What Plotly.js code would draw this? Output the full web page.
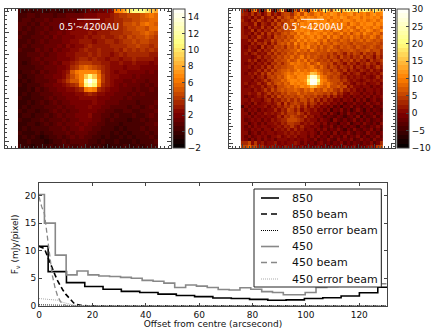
<!DOCTYPE html>
<html><head><meta charset="utf-8">
<script src="https://cdn.plot.ly/plotly-3.0.1.min.js"></script>
<style>html,body{margin:0;padding:0;background:#fff}#c{width:436px;height:334px}</style>
</head><body><div id="c"></div>
<script>
const map850 = [
[.5,0,.5,0,.5,.5,0,.5,.5,0,0,.5,.5,0,.5,1,1.5,1,1.5,1.5,2,2.5,6,7,8,10,11,11,11,10,9,8],
[.5,.5,1,1,.5,1,1,1,.5,1,1,1.5,1.5,1.5,1.5,2,2,2,2.5,2.5,2.5,3,3.5,4,4,4.5,4.5,4.5,5,5.5,6,5.5],
[.5,1,1,.5,1,1,1.5,1,1.5,1.5,1.5,1.5,2,2,2,2.5,2.5,2.5,2.5,2.5,3,3,3.5,3.5,4,4,4.5,4.5,5,5,5.5,5.5],
[1,1,.5,1,.5,1.5,1,1.5,1.5,1.5,2,1.5,2,2,2.5,2.5,2.5,2.5,3,2.5,3,3,3.5,3.5,4.5,4.5,5,4.5,5.5,6,5.5,5],
[1,.5,1,.5,1,1,1.5,1,1.5,1.5,1.5,2,2,2.5,2.5,2.5,2.5,3,2.5,3,3,3,3.5,3.5,4,4.5,4.5,5,5,4.5,5.5,5.5],
[.5,1,.5,.5,1,1.5,1,1.5,1.5,2,1.5,2,2.5,2.5,2.5,2.5,3,2.5,3,3,3,3.5,3.5,3.5,4,4,4.5,4.5,5,5.5,5,4.5],
[1,.5,.5,1,1,1,1.5,1,2,1.5,2,2,2,2.5,2.5,3,2.5,3,3,3.5,3,3,3.5,4,3.5,4.5,4,4.5,4.5,5,4.5,4],
[.5,.5,1,.5,1,1.5,1,1.5,1.5,1.5,2,2,2.5,2.5,3,3,3,2.5,3,3,3.5,3.5,3,3.5,4,4,4.5,4,4.5,4.5,4,4],
[.5,1,.5,1,1,1,1.5,1.5,1.5,2,1.5,2.5,2,2.5,2.5,3,3.5,3,3,3,3,3.5,3.5,3.5,3.5,4,4,4.5,4,4,3.5,4],
[1,.5,.5,.5,1.5,1,1.5,1,2,1.5,2,2,2.5,2.5,3,3.5,3,3,3.5,3,3,3,3.5,3,4,3.5,4,3.5,4,3.5,4,3.5],
[.5,.5,1,1,1,1.5,1,1.5,1.5,2,2,2.5,2.5,3,3,3,3.5,3,3.5,3,3,2.5,3,3.5,3,3.5,3.5,3.5,3.5,3.5,3,3],
[.5,.5,.5,1,1.5,1,1.5,1.5,1.5,2,2,2,2.5,3,3.5,3.5,3,3.5,3,3,2.5,3,3,2.5,3,3,3.5,3,3,3,3,2.5],
[.5,0,.5,1,1,1.5,1,1.5,2,1.5,2.5,2.5,3,3.5,4,4,4,3.5,3.5,3,3,2.5,2.5,3,2.5,2.5,3,2.5,2.5,2.5,2,2.5],
[.5,.5,.5,.5,1,1,1.5,1.5,1.5,2,2,2.5,3.5,4,5,5.5,5,4.5,4,3.5,3,2.5,2.5,2.5,2,2.5,2.5,2.5,2,2,2,2],
[0,.5,.5,1,.5,1.5,1,1.5,1.5,2,2.5,3,5,6,6.5,7,7,6.5,5.5,3.5,3,2.5,2,2.5,2.5,2,2,2,2,1.5,2,1.5],
[.5,0,.5,.5,1,1,1.5,1.5,2,2,2.5,3.5,4.5,5.5,6.5,9,11,9,6,4,3,2.5,2.5,2,2,2,1.5,2,1.5,1.5,1.5,1.5],
[0,.5,0,.5,1,1,1,1.5,1.5,2.5,3,4,5,5,7,12,15,12,7,4,3,2.5,2,2,1.5,1.5,2,1.5,1.5,1,1.5,1.5],
[.5,0,.5,.5,.5,1,1.5,1.5,2,2,2.5,3,3.5,4,6,10.5,12.5,10.5,6,3.5,3,2.5,2,1.5,2,1.5,1.5,1.5,1,1.5,1,1.5],
[0,0,.5,0,1,.5,1,1.5,1.5,2,2,2.5,2.5,3,3.5,6,7,6,3.5,3,2.5,2,2,1.5,1.5,1.5,1,1.5,1,1,1.5,1],
[0,.5,0,.5,.5,1,1,1,1.5,1.5,2,2,2,2.5,2.5,3,3.5,3,2.5,2.5,2,2,1.5,1.5,1.5,1,1.5,1,1.5,1,1,1],
[.5,0,0,.5,.5,.5,1,1.5,1,1.5,1.5,2,2,2,2.5,2.5,2.5,2.5,2,2,2,1.5,1.5,1.5,1,1.5,1,1,1,1,1,1],
[0,0,.5,0,.5,1,.5,1,1.5,1,1.5,1.5,2,2,2,2,2,2.5,2,2,1.5,1.5,1.5,1,1,1,1,.5,1,1,1,1.5],
[0,.5,0,.5,.5,.5,1,1,1,1.5,1,1.5,1.5,2,2,2,2.5,2,2,1.5,1.5,1,1,1,1,.5,1,1,.5,1,1.5,1],
[.5,0,.5,.5,0,.5,.5,1,1.5,1,1.5,1,1.5,1.5,2,2,2,2,1.5,1.5,1,1,.5,.5,1,1,.5,.5,1,1,1,1.5],
[0,.5,.5,0,.5,.5,1,.5,1,1.5,1,1.5,1.5,2,2,2,2.5,1.5,1.5,1,1,.5,1,.5,.5,.5,1,.5,.5,1,1.5,1],
[.5,0,0,.5,.5,1,.5,1,1,1,1.5,1,1.5,1.5,2,2,2,1.5,1.5,1,.5,1,.5,.5,.5,0,.5,.5,1,.5,1,1],
[0,0,.5,.5,0,.5,1,.5,1,1.5,1,1.5,1.5,2,1.5,2,1.5,1.5,1,1,.5,.5,.5,0,.5,.5,.5,.5,.5,1,1,1.5],
[0,.5,0,.5,.5,.5,.5,1,1,1,1.5,1,1.5,1.5,2,1.5,1.5,1,1,.5,.5,.5,0,.5,0,.5,.5,.5,1,.5,1,1],
[.5,0,0,0,.5,0,.5,.5,1,1,1,1.5,1,1.5,1.5,1.5,1,1,.5,.5,.5,0,.5,0,.5,0,.5,.5,.5,1,.5,1],
[0,.5,0,.5,0,-.5,0,.5,.5,1,.5,1,1.5,1,1.5,1,1,.5,.5,0,.5,0,0,.5,0,.5,0,.5,.5,.5,1,.5],
[0,0,.5,0,0,0,-.5,0,.5,.5,1,.5,1,1,1,1,.5,.5,0,.5,0,0,.5,0,0,0,.5,0,.5,.5,.5,1],
[.5,0,0,-.5,0,0,0,.5,0,.5,.5,1,.5,.5,1,.5,.5,0,.5,0,-.5,0,0,0,.5,0,0,.5,0,.5,.5,.5]
];
const map450 = [
[3,1,-6,5,11,0,-8,3,14,-1,-7,6,15,0,-9,-5,8,1,12,4,-6,9,17,7,11,19,13,6,16,20,10,17,22,14,19,23,15,20,18,12,19,17,13],
[3,2,0,4,1,3,-1,2,5,0,3,1,4,6,5,3,7,9,6,10,8,7,9,11,8,10,9,12,10,8,11,9,10,12,8,10,9,11,8,10,12,9,11],
[2,0,2,-1,3,1,4,0,2,4,1,5,3,5,7,4,9,7,10,8,11,9,8,10,12,9,11,8,10,9,12,10,8,9,11,10,8,10,9,11,9,10,8],
[3,1,-1,3,0,4,2,1,3,0,5,2,6,4,6,8,6,10,8,9,12,10,11,9,11,10,8,11,9,10,8,11,10,9,8,11,9,10,8,9,11,8,10],
[2,2,0,1,4,-1,3,2,0,4,2,5,3,7,5,7,10,7,11,9,10,8,12,10,9,11,10,9,11,8,10,9,7,10,9,8,11,9,10,11,8,10,9],
[2,-1,3,1,2,0,4,0,3,1,5,3,6,4,8,6,9,8,10,12,9,11,10,8,11,9,12,10,8,10,9,8,10,8,7,10,8,11,9,8,10,9,7],
[2,1,0,4,-1,3,1,3,2,5,2,6,4,6,5,7,10,9,11,9,10,8,9,11,10,8,9,7,10,9,7,9,8,10,8,7,9,8,10,9,7,8,10],
[2,0,2,-1,3,1,4,1,4,2,4,3,5,7,6,8,7,10,8,10,12,9,11,9,8,10,8,9,7,8,10,7,9,6,8,9,7,10,8,7,9,8,6],
[2,2,-1,2,0,4,2,0,3,1,5,4,6,4,7,5,9,8,11,8,9,10,8,10,9,7,10,7,9,8,6,8,7,9,7,8,6,8,7,9,8,6,8],
[1,0,3,0,4,1,0,3,2,5,3,6,4,7,5,8,7,10,8,10,8,9,11,8,7,9,6,8,7,5,8,7,5,8,6,7,8,6,8,7,5,7,6],
[1,1,-1,3,1,3,2,4,1,4,2,5,7,5,8,6,10,7,9,7,9,8,7,9,6,8,7,6,8,7,5,7,6,4,7,6,5,7,6,5,7,6,4],
[1,-1,2,0,2,-1,4,1,3,2,6,4,6,3,7,5,8,6,9,8,10,7,8,6,8,5,7,8,6,4,7,5,7,6,4,7,6,4,6,7,5,4,6],
[1,0,3,1,-1,3,0,3,2,5,3,5,4,6,5,7,7,9,7,8,6,9,7,5,7,6,8,5,7,6,4,6,5,7,5,4,6,5,7,4,6,5,3],
[1,2,-1,2,3,0,2,1,4,2,5,3,6,4,7,5,8,5,7,5,7,6,5,7,5,6,4,5,3,6,4,2,5,3,5,4,2,5,3,4,2,5,3],
[1,0,1,-1,1,3,0,3,2,4,3,5,4,7,6,8,6,7,9,6,8,5,7,5,4,6,3,5,4,2,5,3,4,2,4,3,5,2,4,3,1,4,2],
[1,1,3,0,3,-1,2,1,3,2,5,4,6,5,8,6,7,9,7,9,6,8,6,4,6,4,5,3,5,4,2,4,3,5,2,4,2,3,1,4,2,3,4],
[1,-1,0,2,-1,2,0,3,1,4,3,5,3,6,7,9,8,9,8,7,9,6,7,9,5,6,4,5,2,4,3,1,4,2,3,1,3,2,4,2,3,1,3],
[1,1,2,-1,2,0,3,1,4,2,5,4,6,5,7,7,9,8,8,7,8,9,7,6,8,5,3,5,4,2,4,3,2,4,1,3,2,0,3,1,2,4,2],
[1,0,-1,1,0,3,1,4,2,5,3,6,7,7,8,7,8,10,8,9,8,9,11,8,7,6,5,3,5,3,2,4,1,3,2,0,3,2,1,3,0,2,1],
[1,-1,2,0,3,1,4,2,5,3,6,5,7,8,9,8,10,9,10,9,11,15,14,10,8,6,7,5,4,5,3,1,3,0,2,3,1,-1,2,0,2,1,3],
[1,1,0,2,-1,2,3,1,4,5,4,7,6,8,10,9,8,11,10,10,17,27,26,16,9,8,6,4,6,4,2,3,1,2,0,2,0,2,1,-1,1,3,0],
[1,0,1,-1,2,0,2,4,2,4,6,5,8,7,9,11,10,9,11,12,21,30,30,20,10,9,7,6,5,6,3,4,2,0,2,1,-1,1,2,0,2,0,2],
[0,2,-1,1,0,3,1,2,5,3,5,7,6,8,7,10,9,11,9,11,18,29,28,17,10,8,9,7,6,4,5,2,3,1,-1,2,0,2,-1,1,0,2,-1],
[0,-1,1,2,0,1,3,1,3,4,2,6,5,7,8,7,9,8,10,9,11,14,13,9,8,7,9,6,5,7,4,5,1,3,0,1,-1,1,0,-2,1,-1,1],
[0,1,0,-1,2,0,2,4,2,5,3,5,7,6,7,7,8,7,6,8,7,9,6,7,5,8,6,7,4,3,5,2,3,0,2,-1,1,-2,0,1,-1,0,-1],
[0,0,2,0,1,3,0,2,4,2,4,3,6,4,7,5,6,8,5,7,5,6,7,5,6,4,5,3,5,2,3,1,-1,2,0,1,-2,0,-1,0,-2,1,-1],
[0,-2,1,-1,0,2,1,3,1,4,2,5,3,5,4,6,4,5,7,4,6,4,5,3,4,2,4,1,3,0,2,-1,1,-2,0,-1,1,-2,0,-2,0,-1,0],
[0,0,-1,2,0,1,-1,2,3,1,3,2,4,3,6,3,5,3,5,6,3,5,2,4,1,3,0,2,-1,1,-2,0,-1,1,-3,0,-2,0,-3,-1,0,-2,-1],
[0,-1,1,-2,2,-1,1,0,2,0,2,4,1,5,2,4,6,4,3,5,2,4,3,1,3,0,2,-1,1,-2,0,-3,-1,-2,0,-2,-1,-3,0,-2,-1,0,-2],
[-4,1,-2,0,-1,1,0,2,-1,2,1,3,2,4,3,5,3,6,2,4,1,3,0,2,-1,1,-2,0,-3,-1,-4,-1,-2,0,-3,-1,-3,-1,-2,0,-3,-2,-1],
[0,-2,0,-1,1,-2,1,-1,1,0,3,1,3,2,5,4,2,4,1,3,2,0,2,-1,1,-2,0,-4,-1,-2,0,-3,-1,-4,-2,0,-2,-4,-1,-3,-1,-2,-3],
[0,0,-3,1,-2,0,-1,2,0,2,0,2,4,2,4,4,3,5,3,1,3,0,1,0,-2,0,-3,0,-2,-4,-1,-3,0,-2,-1,-3,-1,-3,-2,-1,-3,-1,-2],
[0,-1,0,-2,0,-1,1,-1,1,-1,1,3,1,4,3,5,4,3,2,4,0,2,-1,1,-1,-3,-1,-2,-3,-1,-2,-4,-2,-1,-3,0,-4,-1,-3,-2,0,-3,-1],
[0,-2,-1,1,-1,1,-2,0,-1,2,0,2,3,3,5,5,5,4,3,1,2,0,1,-2,0,-1,-2,-4,0,-2,-3,-1,-3,-2,0,-3,-1,-3,-1,-3,-2,-1,-2],
[0,0,-3,-1,0,-2,0,-2,1,0,2,1,3,2,4,4,3,3,1,2,0,2,-1,0,-2,0,-3,-1,-2,-4,-1,-2,0,-4,-2,-1,-3,0,-2,-3,-1,-3,0],
[0,-2,0,-2,1,-1,0,1,-1,1,0,2,1,3,2,4,2,1,3,0,1,-1,1,-1,-3,-1,-2,0,-3,-1,-3,-1,-3,-1,-2,-4,-1,-2,-3,-1,-2,0,-2],
[0,-1,-2,0,-1,0,-2,0,0,-2,2,0,2,1,3,1,3,0,2,-1,1,0,-2,0,-2,0,-3,-1,-2,0,-2,-4,-1,-3,0,-2,-3,-1,-2,0,-3,-1,-3],
[0,0,-3,-1,1,-2,1,-1,1,0,-1,1,0,2,0,2,1,2,0,1,-1,0,-1,-3,0,-2,-1,-3,0,-3,-1,-2,0,-2,-3,-1,-2,-3,0,-2,-1,-3,-1],
[0,-2,0,-2,-1,0,-1,0,-2,1,0,2,-1,1,2,0,2,-1,1,0,-2,0,-2,0,-2,-1,-3,0,-2,-1,-3,0,-3,-1,-2,0,-3,-1,-3,-1,-2,0,-2],
[0,-1,-3,0,-2,1,-2,1,-1,0,-2,0,1,0,-1,1,-1,1,-1,0,-1,-2,0,-3,-1,-2,0,-2,-3,0,-2,-1,-2,0,-3,-2,0,-2,-1,-3,0,-2,-1],
[3,3,5,1,4,0,2,-1,1,0,2,-1,1,-1,1,0,2,0,-2,0,-2,-1,-3,-1,0,-2,-1,-3,-1,-2,0,-3,-1,-3,-1,-2,-3,-1,-2,0,-3,-1,3],
[5,6,8,4,6,2,3,0,1,2,0,1,-1,2,0,1,0,-1,1,-2,0,-2,-1,0,-2,-1,-3,0,-2,-1,-3,0,-2,-1,0,-3,-1,-2,0,2,-1,4,6]
];
const tickTextScaleLeft = [-2,0,2,4,6,8,10,12,14];
const tickTextScaleRight = [-10,-5,0,5,10,15,20,25,30];
const profX850 = [0,6.86,13.7,20.6,27.4,34.3,41.2,48,54.9,61.7,68.6,75.5,82.3,89.2,96,102.9,109.8,116.6,123.5,130.4];
const prof850 = [10.8,6.2,4.2,3.5,3.0,2.6,2.4,2.1,1.85,1.65,1.4,1.3,1.15,1.0,1.05,1.3,1.45,1.75,2.35,3.35];
const profX450 = [0,4.07,8.14,12.2,16.3,20.4,24.4,28.5,32.6,36.6,40.7,44.8,48.8,52.9,57,61,65.1,69.2,73.3,77.3,81.4,85.5,89.5,93.6,97.7,101.8,105.8,109.9,114,118,122.1,126.2,130.2];
const prof450 = [20.2,15,9.2,5.6,6.3,5.6,5.4,5.3,5.15,5.0,4.6,4.45,4.1,3.3,3.75,3.55,3.3,2.95,2.85,3.27,3.0,2.55,2.4,2.0,2.0,2.4,3.3,3.5,3.7,3.8,3.9,20.4,4];
const beamX850 = [0,2,4,5,6,7,8,9,10,11,12,13,14,16,18,130];
const beam850 = [10.8,10.4,8,6.7,5.6,4.5,3.6,2.8,2.1,1.5,.9,.5,.25,.05,0,0];
const beamX450 = [0,1,2,3,4,5,6,7,8,9,10,12,130];
const beam450 = [19.8,18,16.8,13,8.5,5.5,3.3,1.7,.8,.2,.05,0,0];
const errX850 = [0,10,15,130];
const err850 = [.15,.1,.03,0];
const errX450 = [0,4,7,9,11,13,16,130];
const err450 = [1.3,1.2,1.0,.6,.3,.1,0,0];
const labels = ['850','850 beam','850 error beam','450','450 beam','450 error beam'];
const scaleLabel = "0.5'~4200AU";

const W=436,H=334,FONT='"DejaVu Sans",sans-serif',AX='#444';
const px=v=>v/W, py=v=>(H-v)/H;
const cs=[];const N=32;
const afm=t=>{const c=v=>Math.round(255*Math.max(0,Math.min(1,v)));return `rgb(${c(2*t)},${c(2*t-.5)},${c(2*t-1)})`;};
for(let i=0;i<N;i++){const col=afm((i+.5)/N);cs.push([i/N,col],[(i+1)/N,col]);}
function hm(z,xa,ya,zmin,zmax,cbx,ticks){return {type:'heatmap',z,xaxis:xa,yaxis:ya,zmin,zmax,zsmooth:false,colorscale:cs,hoverinfo:'skip',
 colorbar:{x:px(cbx),xanchor:'left',y:py(148),yanchor:'bottom',thicknessmode:'pixels',thickness:12,lenmode:'pixels',len:139,xpad:0,ypad:0,
  tickmode:'array',tickvals:ticks,ticktext:ticks.map(v=>String(v).replace('-','\u2212')),ticks:'inside',ticklen:3,tickcolor:AX,tickfont:{size:9,family:FONT,color:'#111'},outlinecolor:AX,outlinewidth:1,borderwidth:0}};}
const styles=[['#000','solid',1.6],['#000','5px,3px',1.6],['#000','1px,1px',1],['#888','solid',1.6],['#888','5px,3px',1.3],['#aaa','1px,1px',1]];
const line=(x,y,i)=>({type:'scatter',mode:'lines',x,y,name:labels[i],xaxis:'x3',yaxis:'y3',showlegend:false,line:{color:styles[i][0],dash:styles[i][1],width:styles[i][2],shape:styles[i][1]==='solid'?'hvh':'linear'},hoverinfo:'skip'});
const data=[
 hm(map850,'x','y',-2,15,173,tickTextScaleLeft),
 hm(map450,'x2','y2',-10,30,397,tickTextScaleRight),
 line(profX850,prof850,0),line(beamX850,beam850,1),line(errX850,err850,2),
 line(profX450,prof450,3),line(beamX450,beam450,4),line(errX450,err450,5)
];
const base={showgrid:false,zeroline:false,showline:true,mirror:'allticks',linecolor:AX,linewidth:1,ticks:'inside',tickcolor:AX,showticklabels:false};
const imgAx=(dom,range)=>Object.assign({},base,{domain:dom,range,dtick:5,tick0:0,ticklen:4,minor:{dtick:1,ticks:'inside',ticklen:2,tickcolor:AX}});
const rowY=[198,214,230.5,246.5,262.5,279];
const legendShapes=[{type:'rect',xref:'paper',yref:'paper',x0:px(254),x1:px(381.3),y0:py(287),y1:py(189),fillcolor:'#fff',line:{color:'#222',width:1},layer:'above'}];
const legendNotes=[];
labels.forEach((t,i)=>{
 const dash=styles[i][1]==='5px,3px'?'6px,4px':styles[i][1];
 legendShapes.push({type:'line',xref:'paper',yref:'paper',x0:px(261),x1:px(279),y0:py(rowY[i]),y1:py(rowY[i]),line:{color:styles[i][0],dash,width:styles[i][2]},layer:'above'});
 legendNotes.push({xref:'paper',yref:'paper',x:px(290),y:py(rowY[i]),text:t,showarrow:false,font:{size:11,family:FONT,color:'#111'},xanchor:'left',yanchor:'middle'});
});
const layout={width:W,height:H,margin:{l:0,r:0,t:0,b:0,autoexpand:false},paper_bgcolor:'#fff',plot_bgcolor:'#fff',font:{family:FONT,size:9,color:'#111'},
 showlegend:false,
 xaxis:imgAx([px(5.3),px(171.3)],[-3.4,34.54]),
 yaxis:Object.assign(imgAx([py(148),py(9)],[31.5,-.5]),{anchor:'x'}),
 xaxis2:Object.assign(imgAx([px(229),px(395)],[-4.1,46.1]),{anchor:'y2'}),
 yaxis2:Object.assign(imgAx([py(148),py(9)],[41.5,-.5]),{anchor:'x2'}),
 xaxis3:Object.assign({},base,{domain:[px(39),px(387)],range:[0,130.4],anchor:'y3',showticklabels:true,tickvals:[0,20,40,60,80,100,120],ticklen:3,tickfont:{size:9,family:FONT},
   title:{text:'Offset from centre (arcsecond)',font:{size:9,family:FONT},standoff:2}}),
 yaxis3:Object.assign({},base,{domain:[py(305.7),py(183)],range:[0,22.3],anchor:'x3',showticklabels:true,tickvals:[0,5,10,15,20],ticklen:3,tickfont:{size:9,family:FONT},
   title:{text:'F<sub>\u03bd</sub> (mJy/pixel)',font:{size:9,family:FONT},standoff:4}}),
 shapes:[
  {type:'line',xref:'paper',yref:'paper',x0:px(77),x1:px(100),y0:py(19.3),y1:py(19.3),line:{color:'#fff',width:1}},
  {type:'line',xref:'paper',yref:'paper',x0:px(301),x1:px(324),y0:py(19.3),y1:py(19.3),line:{color:'#fff',width:1}}
 ].concat(legendShapes),
 annotations:[
  {xref:'paper',yref:'paper',x:px(89),y:py(27),text:scaleLabel,showarrow:false,font:{size:9,color:'#fff',family:FONT},xanchor:'center',yanchor:'middle'},
  {xref:'paper',yref:'paper',x:px(313),y:py(27),text:scaleLabel,showarrow:false,font:{size:9,color:'#fff',family:FONT},xanchor:'center',yanchor:'middle'}
 ].concat(legendNotes)};
Plotly.newPlot('c',data,layout,{staticPlot:true,displayModeBar:false});
</script></body></html>
